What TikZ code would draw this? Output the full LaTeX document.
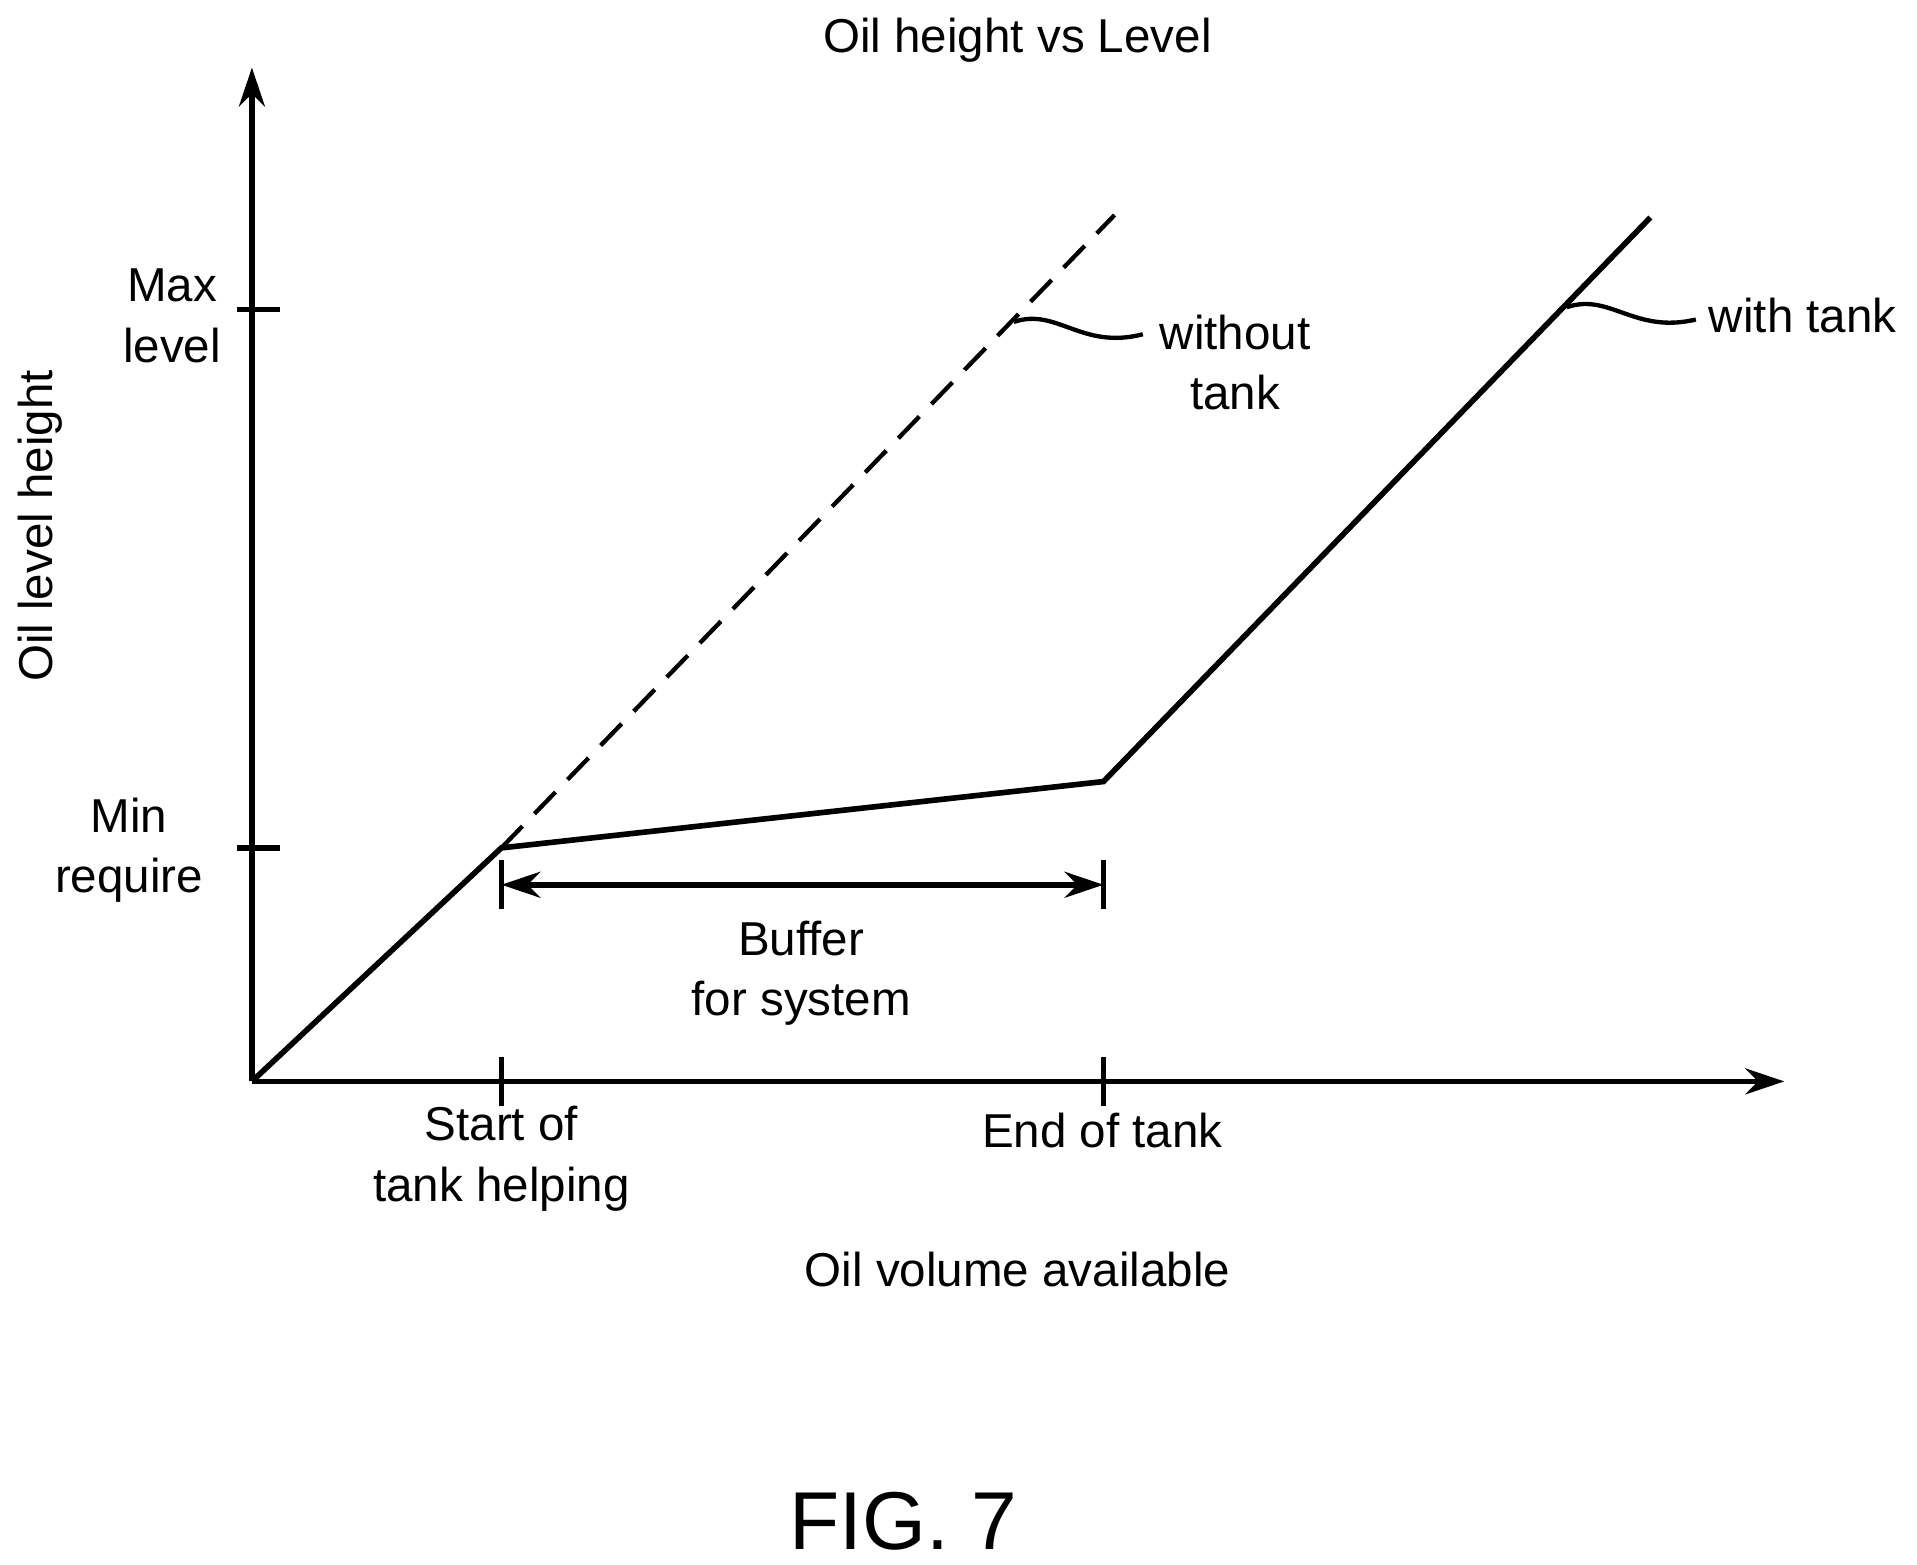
\documentclass[tikz,border=0pt]{standalone}
\usepackage{fontspec}
\setmainfont{Liberation Sans}
\usetikzlibrary{arrows.meta}
\begin{document}
\begin{tikzpicture}[x=0.01cm,y=-0.01cm,
  ln/.style={line width=1.3pt},
  lbl/.style={font=\fontsize{11}{14}\selectfont,align=center,inner sep=0pt},
  ax/.style={ln,-{Stealth[length=9pt,width=6pt]}}]
\useasboundingbox (0,0) rectangle (1560,1273);
\coordinate (O) at (205,880);
\coordinate (ytop) at (205,55);
\coordinate (xend) at (1452,880);
\draw[ax] (O) -- (ytop);
\draw[ax] (O) -- (xend);
\coordinate (S) at (408,690);
\coordinate (E) at (898,636);
\coordinate (W) at (1343,177);
\coordinate (D) at (907,175);
\draw[ln] (O) -- (S) -- (E) -- (W);
\draw[ln,dashed,dash pattern=on 7pt off 4pt,line width=1pt] (S) -- (D);
\draw[ln] (193,252) -- (228,252);
\draw[ln] (193,690) -- (228,690);
\draw[ln] (408,860) -- (408,900);
\draw[ln] (898,860) -- (898,900);
\draw[ln] (408,700) -- (408,740);
\draw[ln] (898,700) -- (898,740);
\coordinate (bl) at (408,720); \coordinate (br) at (898,720);
\draw[ln,{Stealth[length=9pt,width=6pt]}-{Stealth[length=9pt,width=6pt]}] (bl) -- (br);
\draw[line width=1pt] (825,262) .. controls (860,250) and (880,285) .. (930,272);
\draw[line width=1pt] (1275,250) .. controls (1310,238) and (1330,272) .. (1380,260);
\node[lbl] (t) at (828,33) {Oil height vs Level};
\node[lbl] (mx) at (140,257) {Max\\level};
\node[lbl] (mn) at (105,692) {Min\\require};
\node[lbl,rotate=90] (yl) at (33,428) {Oil level height};
\node[lbl] (wo) at (1005,295) {without\\tank};
\node[lbl] (wt) at (1467,257) {with tank};
\node[lbl] (bf) at (652,792) {Buffer\\for system};
\node[lbl] (st) at (408,943) {Start of\\tank helping};
\node[lbl] (et) at (897,920) {End of tank};
\node[lbl] (xl) at (828,1033) {Oil volume available};
\node[inner sep=0pt,font=\fontsize{19}{23}\selectfont] (fig) at (735,1238) {FIG. 7};
\end{tikzpicture}
\end{document}
